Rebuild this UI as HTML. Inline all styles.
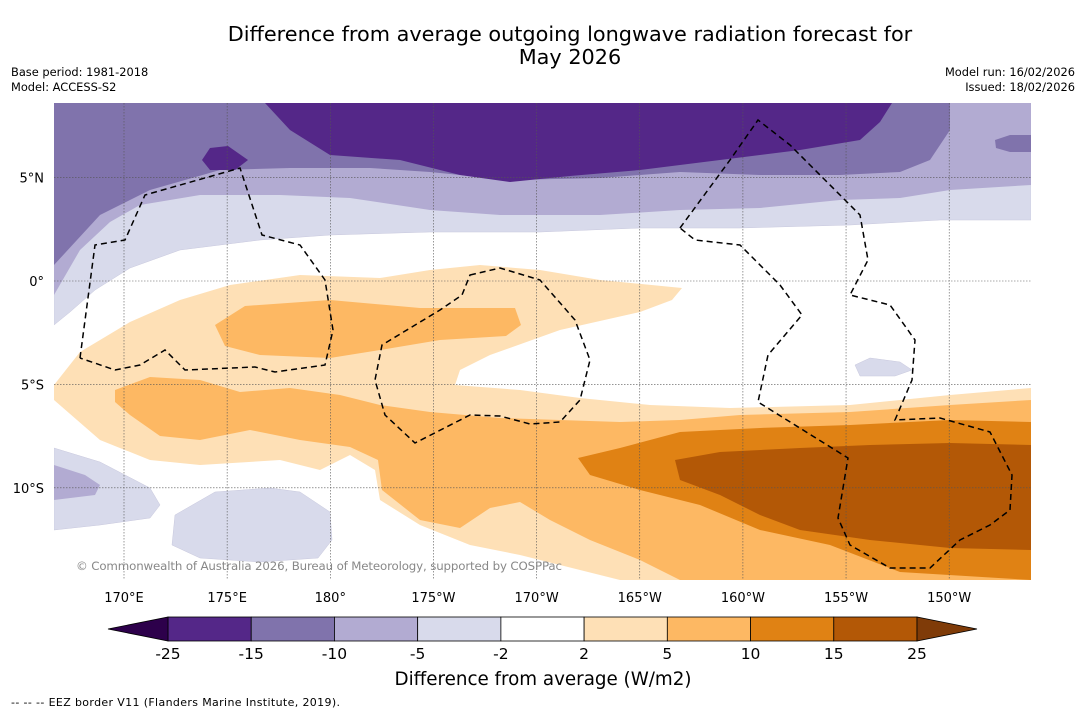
<!DOCTYPE html>
<html><head><meta charset="utf-8"><style>
body{margin:0;background:#fff;width:1085px;height:713px;overflow:hidden;font-family:"Liberation Sans","DejaVu Sans",sans-serif;}
svg text{font-family:"DejaVu Sans","Liberation Sans",sans-serif;}
</style></head><body>
<svg id="chart" width="1085" height="713">
<rect width="1085" height="713" fill="#fff"/>
<text x="570" y="41" font-size="20.8" text-anchor="middle">Difference from average outgoing longwave radiation forecast for</text>
<text x="570" y="64" font-size="20.8" text-anchor="middle">May 2026</text>
<text x="11" y="76" font-size="11.4">Base period: 1981-2018</text>
<text x="11" y="91" font-size="11.4">Model: ACCESS-S2</text>
<text x="1075" y="76" font-size="11.4" text-anchor="end">Model run: 16/02/2026</text>
<text x="1075" y="91" font-size="11.4" text-anchor="end">Issued: 18/02/2026</text>
<defs><clipPath id="mapclip"><rect x="54" y="103" width="977" height="477"/></clipPath></defs>
<g id="map" clip-path="url(#mapclip)"></g>
<g id="grid"></g>
<g id="eez" clip-path="url(#mapclip)"></g>
<text x="76" y="570" font-size="11.8" fill="#888" textLength="486">© Commonwealth of Australia 2026, Bureau of Meteorology, supported by COSPPac</text>
<g id="axes"></g>
<g id="cbar"></g>
<text x="543" y="685" font-size="18.3" text-anchor="middle">Difference from average (W/m2)</text>
<text x="11" y="706" font-size="11" textLength="329">--  --  -- EEZ border V11 (Flanders Marine Institute, 2019).</text>
</svg>
<script>
const NS="http://www.w3.org/2000/svg";
const levels=["-25","-15","-10","-5","-2","2","5","10","15","25"];
const binColors=["#542788","#8073ac","#b2abd2","#d8daeb","#ffffff","#fee0b6","#fdb863","#e08214","#b35806"];
const lonTicks=[170,175,180,185,190,195,200,205,210];
const lonLabels=["170°E","175°E","180°","175°W","170°W","165°W","160°W","155°W","150°W"];
const latTicks=[5,0,-5,-10];
const latLabels=["5°N","0°","5°S","10°S"];
const regions=[
 ["#d8daeb","M54,103 L1031,103 L1031,220 L940,220 L850,225 L740,228 L640,228 L540,232 L430,232 L330,235 L260,240 L180,250 L130,268 L95,290 L70,312 L54,325 Z"],
 ["#b2abd2","M54,103 L1031,103 L1031,185 L950,190 L900,198 L840,200 L760,208 L680,210 L600,215 L500,215 L430,210 L350,198 L280,195 L200,195 L140,205 L110,222 L80,250 L54,295 Z"],
 ["#8073ac","M54,103 L950,103 L950,130 L930,160 L900,172 L840,175 L760,175 L680,172 L600,178 L510,180 L430,172 L370,168 L290,168 L220,170 L150,190 L100,215 L54,265 Z"],
 ["#8073ac","M995,140 L1010,135 L1031,135 L1031,152 L1010,152 L996,148 Z"],
 ["#542788","M265,103 L892,103 L880,122 L860,140 L800,150 L720,160 L640,170 L570,176 L510,182 L460,175 L400,160 L330,155 L290,130 Z"],
 ["#542788","M202,160 L210,148 L228,146 L248,160 L235,170 L210,170 Z"],
 ["#fee0b6","M54,385 L80,352 L130,322 L180,300 L230,285 L300,275 L380,278 L430,270 L480,265 L540,270 L600,280 L682,288 L672,300 L640,312 L560,330 L490,355 L460,370 L455,385 L520,390 L580,398 L650,405 L730,408 L850,405 L950,395 L1031,388 L1031,580 L620,580 L600,575 L560,565 L520,555 L470,545 L420,525 L380,500 L375,470 L350,455 L320,470 L280,460 L200,465 L150,460 L100,440 L54,400 Z"],
 ["#fdb863","M115,390 L150,377 L200,380 L240,392 L290,388 L340,395 L380,405 L430,412 L500,418 L560,420 L620,422 L680,420 L740,415 L850,412 L950,405 L1031,400 L1031,580 L680,580 L640,560 L590,540 L550,520 L520,502 L490,508 L460,528 L420,520 L382,490 L378,460 L350,447 L300,440 L250,430 L200,440 L160,436 L130,415 L115,402 Z"],
 ["#fdb863","M215,325 L245,306 L330,300 L420,308 L515,308 L521,325 L506,336 L440,340 L380,350 L330,358 L260,355 L225,346 Z"],
 ["#e08214","M578,458 L620,448 L680,432 L760,428 L850,425 L950,420 L1031,422 L1031,580 L900,572 L830,545 L760,530 L700,505 L640,490 L590,475 Z"],
 ["#b35806","M675,460 L720,452 L800,448 L870,445 L950,443 L1031,445 L1031,550 L950,548 L870,540 L800,530 L760,515 L720,495 L680,480 Z"],
 ["#d8daeb","M54,448 L100,462 L150,488 L160,505 L150,518 L100,525 L54,530 Z"],
 ["#b2abd2","M54,465 L85,475 L100,485 L95,495 L54,500 Z"],
 ["#d8daeb","M175,515 L215,492 L270,488 L300,492 L330,512 L332,540 L318,558 L260,562 L200,558 L172,545 Z"],
 ["#d8daeb","M855,365 L870,358 L900,362 L912,370 L895,376 L860,376 Z"]
];
const eezLines=[
 "M80,358 L95,245 L125,240 L145,195 L240,168 L262,235 L300,245 L325,280 L333,330 L325,365 L275,372 L255,367 L185,370 L165,350 L140,365 L115,370 L80,358",
 "M470,275 L500,268 L540,280 L575,320 L590,360 L580,400 L560,422 L530,424 L500,416 L470,415 L415,443 L385,415 L375,380 L382,345 L440,310 L462,295 Z",
 "M680,228 L730,160 L758,120 L790,145 L825,180 L860,215 L868,260 L850,295 L890,305 L915,340 L912,380 L895,420 L940,418 L990,432 L1012,475 L1010,510 L990,525 L960,540 L930,568 L890,568 L850,545 L838,518 L848,458 L758,402 L768,355 L802,315 L780,285 L740,245 L695,240 Z"
];
const X=lon=>124+(lon-170)*20.63;
const Y=lat=>281-lat*20.68;
function mk(tag,attrs,parent){const e=document.createElementNS(NS,tag);for(const k in attrs)e.setAttribute(k,attrs[k]);parent.appendChild(e);return e;}
const map=document.getElementById('map');
const bg=mk('rect',{x:54,y:103,width:977,height:477,fill:'#fff'},map);


regions.forEach((r,i)=>{
 const p=mk('path',{d:r[1],fill:r[0],stroke:r[0]==='#d8daeb'?'#c8c8dd':'none','stroke-width':0.5},map);
 
 
});
const grid=document.getElementById('grid');
lonTicks.forEach(l=>{const ln=mk('line',{x1:X(l),x2:X(l),y1:103,y2:580,stroke:'#555','stroke-width':0.6,'stroke-dasharray':'1.5,1.5'},grid);
 
 });
latTicks.forEach(l=>{const ln=mk('line',{x1:54,x2:1031,y1:Y(l),y2:Y(l),stroke:'#555','stroke-width':0.6,'stroke-dasharray':'1.5,1.5'},grid);
 
 });
const eez=document.getElementById('eez');
eezLines.forEach(d=>{const p=mk('path',{d:d,fill:'none',stroke:'#000','stroke-width':1.5,'stroke-dasharray':'6,4'},eez);
 
 });
const axes=document.getElementById('axes');
lonTicks.forEach((l,i)=>{const t=mk('text',{x:X(l),y:602,'font-size':13,'text-anchor':'middle'},axes);t.textContent=lonLabels[i];
 
 });
latTicks.forEach((l,i)=>{const t=mk('text',{x:44,y:Y(l)+5,'font-size':13,'text-anchor':'end'},axes);t.textContent=latLabels[i];
 
 });
const cb=document.getElementById('cbar');
const cx0=168,cx1=917,cy=617,ch=24,bw=(cx1-cx0)/binColors.length;
binColors.forEach((c,i)=>{const r=mk('rect',{x:cx0+i*bw,y:cy,width:bw,height:ch,fill:c,stroke:'#000','stroke-width':0.8},cb);
 
 });
const lt=mk('polygon',{points:`108,${cy+ch/2} ${cx0},${cy} ${cx0},${cy+ch}`,fill:'#2d004b',stroke:'#000','stroke-width':0.8},cb);


const rt=mk('polygon',{points:`977,${cy+ch/2} ${cx1},${cy} ${cx1},${cy+ch}`,fill:'#7f3b08',stroke:'#000','stroke-width':0.8},cb);


levels.forEach((v,i)=>{const t=mk('text',{x:cx0+i*bw,y:659,'font-size':15.5,'text-anchor':'middle'},cb);t.textContent=v;
 
 });
</script>
</body></html>
